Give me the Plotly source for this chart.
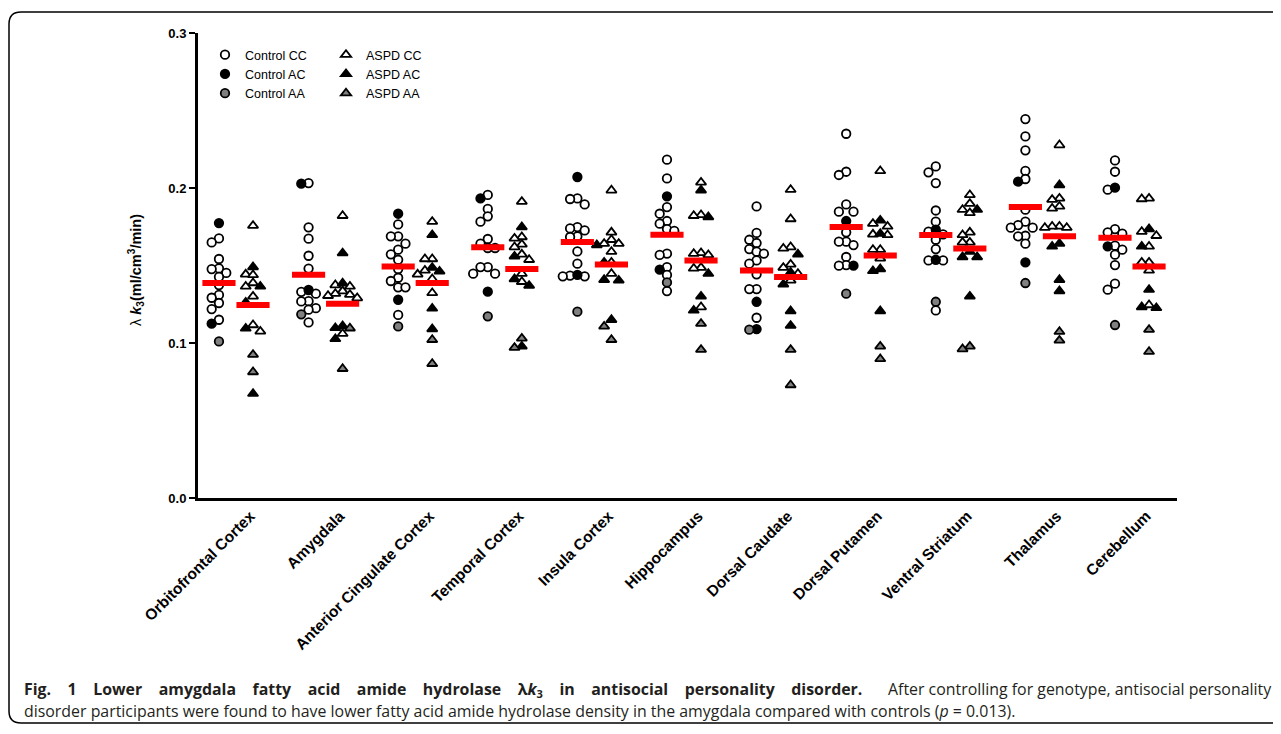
import plotly.graph_objects as go

regions = ["Orbitofrontal Cortex", "Amygdala", "Anterior Cingulate Cortex", "Temporal Cortex",
           "Insula Cortex", "Hippocampus", "Dorsal Caudate", "Dorsal Putamen",
           "Ventral Striatum", "Thalamus", "Cerebellum"]

control_CC = [
    [0.1675, 0.1649, 0.1542, 0.1481, 0.1477, 0.1452, 0.1426, 0.1374, 0.1310, 0.1292, 0.1258, 0.1219, 0.1150],
    [0.2032, 0.1746, 0.1673, 0.1563, 0.1480, 0.1330, 0.1318, 0.1270, 0.1268, 0.1225, 0.1215, 0.1133],
    [0.1765, 0.1688, 0.1688, 0.1641, 0.1602, 0.1572, 0.1537, 0.1477, 0.1421, 0.1400, 0.1359, 0.1359, 0.1181],
    [0.1955, 0.1865, 0.1817, 0.1783, 0.1671, 0.1641, 0.1613, 0.1613, 0.1490, 0.1490, 0.1447, 0.1447],
    [0.1933, 0.1929, 0.1894, 0.1748, 0.1739, 0.1726, 0.1688, 0.1684, 0.1591, 0.1512, 0.1435, 0.1430, 0.1430],
    [0.2183, 0.2062, 0.1877, 0.1834, 0.1787, 0.1770, 0.1735, 0.1723, 0.1576, 0.1568, 0.1490, 0.1439, 0.1335],
    [0.1881, 0.1710, 0.1666, 0.1645, 0.1606, 0.1589, 0.1576, 0.1533, 0.1512, 0.1443, 0.1348, 0.1348, 0.1163],
    [0.2350, 0.2105, 0.2084, 0.1894, 0.1847, 0.1847, 0.1714, 0.1654, 0.1654, 0.1632, 0.1555, 0.1503, 0.1499],
    [0.2139, 0.2101, 0.2032, 0.1855, 0.1783, 0.1718, 0.1701, 0.1666, 0.1606, 0.1533, 0.1533, 0.1210],
    [0.2445, 0.2333, 0.2243, 0.2110, 0.2058, 0.1860, 0.1783, 0.1761, 0.1744, 0.1744, 0.1692, 0.1688, 0.1641],
    [0.2178, 0.2105, 0.1989, 0.1735, 0.1714, 0.1705, 0.1628, 0.1602, 0.1570, 0.1503, 0.1383, 0.1344],
]
control_AC = [
    [0.1774, 0.1125], [0.2028, 0.1342], [0.1834, 0.1279], [0.1933, 0.1331], [0.2071, 0.1439],
    [0.1946, 0.1473], [0.1266, 0.1090], [0.1787, 0.1499], [0.1731, 0.1537], [0.2041, 0.1520],
    [0.2002, 0.1623],
]
control_AA = [[0.1010], [0.1185], [0.1107], [0.1172], [0.1202], [0.1391], [0.1086], [0.1318],
              [0.1266], [0.1387], [0.1116]]

aspd_CC = [
    [0.1757, 0.1443, 0.1439, 0.1387, 0.1365, 0.1301, 0.1116, 0.1075],
    [0.1821, 0.1374, 0.1365, 0.1335, 0.1318, 0.1312, 0.1305, 0.1290, 0.1060],
    [0.1783, 0.1542, 0.1542, 0.1468, 0.1443, 0.1413, 0.1323],
    [0.1912, 0.1684, 0.1675, 0.1636, 0.1619, 0.1572, 0.1537, 0.1447, 0.1395],
    [0.1985, 0.1714, 0.1666, 0.1641, 0.1641, 0.1589, 0.1520, 0.1447],
    [0.2036, 0.1826, 0.1821, 0.1581, 0.1576, 0.1568, 0.1486, 0.1481, 0.1232],
    [0.1989, 0.1800, 0.1619, 0.1610, 0.1507, 0.1486, 0.1447, 0.1404],
    [0.2110, 0.1770, 0.1752, 0.1701, 0.1697, 0.1602, 0.1602, 0.1546],
    [0.1955, 0.1899, 0.1860, 0.1839, 0.1714, 0.1697, 0.1649, 0.1649],
    [0.2277, 0.1933, 0.1925, 0.1881, 0.1868, 0.1752, 0.1752, 0.1744, 0.1744],
    [0.1933, 0.1929, 0.1718, 0.1692, 0.1623, 0.1520, 0.1520, 0.1468, 0.1245],
]
aspd_AC = [
    [0.1490, 0.1365, 0.1262, 0.1094, 0.0673],
    [0.1580, 0.1385, 0.1110, 0.1097, 0.1026],
    [0.1697, 0.1486, 0.1462, 0.1223, 0.1090],
    [0.1748, 0.1559, 0.1413, 0.1370, 0.0978],
    [0.1632, 0.1520, 0.1408, 0.1404, 0.1150],
    [0.1985, 0.1813, 0.1447, 0.1301, 0.1210],
    [0.1572, 0.1455, 0.1378, 0.1206, 0.1112],
    [0.1791, 0.1705, 0.1477, 0.1465, 0.1206],
    [0.1860, 0.1589, 0.1555, 0.1555, 0.1301],
    [0.2019, 0.1641, 0.1623, 0.1408, 0.1335],
    [0.1735, 0.1623, 0.1344, 0.1232, 0.1226],
]
aspd_AA = [[0.0925, 0.0813], [0.1095, 0.0834], [0.1021, 0.0866], [0.1030, 0.0970], [0.1107, 0.1021],
           [0.1125, 0.0957], [0.0957, 0.0729], [0.0978, 0.0897], [0.0978, 0.0961], [0.1073, 0.1017],
           [0.1086, 0.0944]]

control_mean = [0.1387, 0.1441, 0.1494, 0.1617, 0.1652, 0.1699, 0.1468, 0.1748, 0.1697, 0.1877, 0.1679]
aspd_mean = [0.1245, 0.1254, 0.1387, 0.1477, 0.1507, 0.1533, 0.1426, 0.1565, 0.1610, 0.1688, 0.1494]

y_ticks = [0.0, 0.1, 0.2, 0.3]
y_tick_labels = ["0.0", "0.1", "0.2", "0.3"]

caption_bold = ("Fig. 1 Lower amygdala fatty acid amide hydrolase λ<i>k</i><sub>3</sub> "
                "in antisocial personality disorder.")
caption_rest1 = "After controlling for genotype, antisocial personality"
caption_line2 = ("disorder participants were found to have lower fatty acid amide hydrolase density "
                 "in the amygdala compared with controls (<i>p</i> = 0.013).")

# ---------------- layout geometry (style) ----------------
SHIFT = 8                      # page body margin of the browser
W, H = 1281, 734
ML, MT = 198 - SHIFT, 33 - SHIFT
PW, PH = 979, 465
MR, MB = W - ML - PW, H - MT - PH
X_RANGE = [-0.424, 10.502]
Y_RANGE = [0.0, 0.3]
PX_PER_X = PW / (X_RANGE[1] - X_RANGE[0])
PX_PER_Y = PH / (Y_RANGE[1] - Y_RANGE[0])
GROUP_SHIFT = 0.19
STEP_PX = 7.3
COLLIDE_PX = 7.3
MEAN_HALF = 0.185
LABEL_SHIFT = 0.16


def px_x(p):
    return (p - SHIFT - ML) / PW


def px_y(p):
    return (MT + PH - (p - SHIFT)) / PH


def swarm_offsets(vals):
    order = sorted(range(len(vals)), key=lambda k: -vals[k])
    placed = []
    offs = [0.0] * len(vals)
    for k in order:
        y = vals[k] * PX_PER_Y
        chosen = 0.0
        for m in [0, -1, 1, -2, 2, -3, 3]:
            x = m * STEP_PX
            if all((x - a) ** 2 + (y - b) ** 2 >= COLLIDE_PX ** 2 - 1e-9 for a, b in placed):
                chosen = x
                break
        placed.append((chosen, y))
        offs[k] = chosen / PX_PER_X
    return offs


def build_column(groups, side):
    out = [([], []) for _ in groups]
    for i in range(len(regions)):
        vals, tags = [], []
        for g, arr in enumerate(groups):
            for v in arr[i]:
                vals.append(v)
                tags.append(g)
        offs = swarm_offsets(vals)
        for v, t, o in zip(vals, tags, offs):
            out[t][0].append(i + side * GROUP_SHIFT + o)
            out[t][1].append(v)
    return out


def justify(text, extra):
    return (" " + "\u00a0" * extra).join(text.split(" "))


ctrl_cols = build_column([control_CC, control_AC, control_AA], -1)
aspd_cols = build_column([aspd_CC, aspd_AC, aspd_AA], +1)

fills = ["white", "black", "#808080"]
ctrl_names = ["Control CC", "Control AC", "Control AA"]
aspd_names = ["ASPD CC", "ASPD AC", "ASPD AA"]

fig = go.Figure()
for (xs, ys), nm, fc in zip(ctrl_cols, ctrl_names, fills):
    fig.add_trace(go.Scatter(x=xs, y=ys, mode="markers", name=nm, legend="legend",
                             marker=dict(symbol="circle", size=8.5, color=fc,
                                         line=dict(color="black", width=1.8))))
for (xs, ys), nm, fc in zip(aspd_cols, aspd_names, fills):
    fig.add_trace(go.Scatter(x=xs, y=ys, mode="markers", name=nm, legend="legend2",
                             marker=dict(symbol="triangle-up", size=9, color=fc,
                                         line=dict(color="black", width=1.8))))

mx, my = [], []
for i in range(len(regions)):
    for side, m in ((-1, control_mean[i]), (1, aspd_mean[i])):
        c = i + side * GROUP_SHIFT
        mx += [c - MEAN_HALF, c + MEAN_HALF, None]
        my += [m, m, None]
fig.add_trace(go.Scatter(x=mx, y=my, mode="lines", showlegend=False,
                         line=dict(color="#ff0000", width=6)))

ARIAL = "Liberation Sans, Arial, sans-serif"
ytick_font = dict(family=ARIAL, size=13, color="black", weight="bold")
xtick_font = dict(family=ARIAL, size=15.5, color="black", weight="bold")

fig.update_layout(
    width=W, height=H,
    margin=dict(l=ML, r=MR, t=MT, b=MB, pad=0),
    paper_bgcolor="white", plot_bgcolor="white",
    font=dict(family=ARIAL, color="black"),
    xaxis=dict(range=X_RANGE, showgrid=False, zeroline=False, showline=True, linecolor="black",
               linewidth=3, ticks="", tickmode="array",
               tickvals=[i + LABEL_SHIFT for i in range(len(regions))], ticktext=regions,
               tickangle=-45, tickfont=xtick_font),
    yaxis=dict(range=Y_RANGE, showgrid=False, zeroline=False, showline=True, linecolor="black",
               linewidth=3, ticks="outside", ticklen=6, tickwidth=2, tickcolor="black",
               tickmode="array", tickvals=y_ticks, ticktext=y_tick_labels, tickfont=ytick_font),
    legend=dict(x=px_x(205), y=px_y(40), xanchor="left", yanchor="top",
                font=dict(family=ARIAL, size=12.5),
                bgcolor="rgba(0,0,0,0)", tracegroupgap=0),
    legend2=dict(x=px_x(326), y=px_y(40), xanchor="left", yanchor="top",
                 font=dict(family=ARIAL, size=12.5),
                 bgcolor="rgba(0,0,0,0)", tracegroupgap=0),
)

# y-axis title
fig.add_annotation(xref="paper", yref="paper", x=px_x(136), y=px_y(270), showarrow=False,
                   textangle=-90, xanchor="center", yanchor="middle",
                   text="λ <b><i>k</i><sub>3</sub>(ml/cm<sup>3</sup>/min)</b>",
                   font=dict(family=ARIAL, size=14.5, color="black"))

# caption (first line justified by widened word gaps)
cap_font = dict(family="Open Sans, sans-serif", size=15.9, color="#231f20")
fig.add_annotation(xref="paper", yref="paper", x=px_x(22), y=px_y(689), showarrow=False,
                   xanchor="left", yanchor="middle", align="left",
                   text="<b>" + justify(caption_bold, 3) + "</b>", font=cap_font)
fig.add_annotation(xref="paper", yref="paper", x=px_x(1273), y=px_y(689), showarrow=False,
                   xanchor="right", yanchor="middle", align="right",
                   text=caption_rest1, font=cap_font)
fig.add_annotation(xref="paper", yref="paper", x=px_x(22), y=px_y(711), showarrow=False,
                   xanchor="left", yanchor="middle", align="left",
                   text=caption_line2, font=cap_font)

# rounded frame around the figure
L, T, B, R, RAD = 9, 12, 723, 1300, 12
path = (f"M {px_x(R)},{px_y(T)} L {px_x(L + RAD)},{px_y(T)} "
        f"Q {px_x(L)},{px_y(T)} {px_x(L)},{px_y(T + RAD)} "
        f"L {px_x(L)},{px_y(B - RAD)} Q {px_x(L)},{px_y(B)} {px_x(L + RAD)},{px_y(B)} "
        f"L {px_x(R)},{px_y(B)}")
fig.add_shape(type="path", xref="paper", yref="paper", path=path,
              line=dict(color="black", width=1.5))

fig.write_html("out.html")
